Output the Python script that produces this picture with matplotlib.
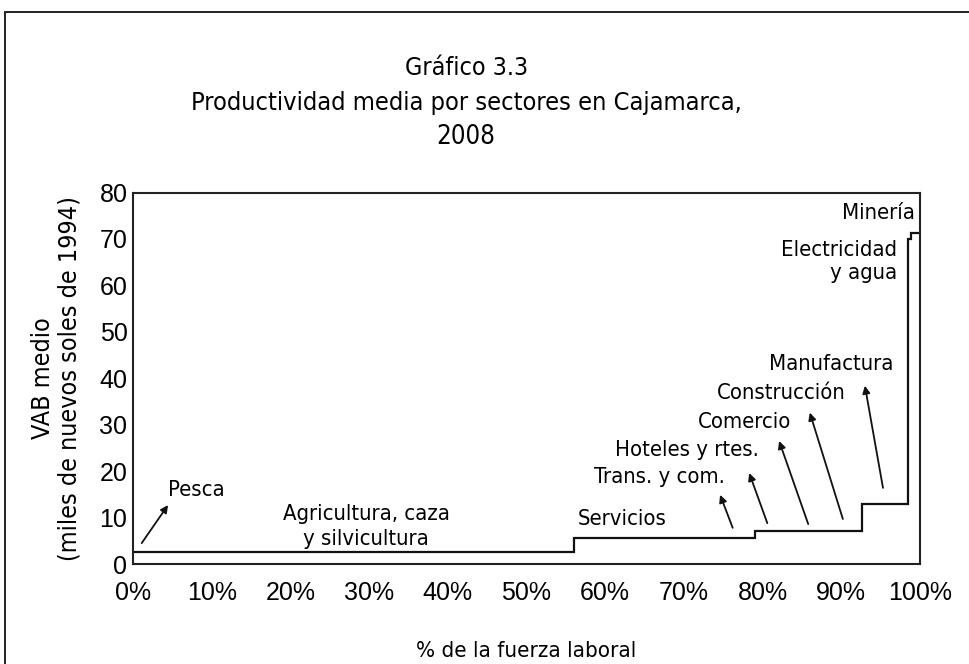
import numpy as np
import matplotlib
matplotlib.use('Agg')
import matplotlib.pyplot as plt
from matplotlib import font_manager
from matplotlib.patches import Rectangle

# Sectors ordered by average value added per worker (Cajamarca, 2008)
sectors = ['Pesca', 'Agricultura, caza y silvicultura', 'Servicios', 'Trans. y com.',
           'Hoteles y rtes.', 'Comercio', 'Construcción', 'Manufactura',
           'Electricidad y agua', 'Minería']
labor_share = [0.4, 55.6, 18.0, 5.0, 3.5, 5.5, 4.6, 5.9, 0.3, 1.2]   # % of labour force
vab_medio = [2.6, 2.6, 5.6, 5.6, 7.2, 7.2, 7.2, 12.9, 70.0, 71.3]     # thousand 1994 soles

x_ticks = [0, 10, 20, 30, 40, 50, 60, 70, 80, 90, 100]
y_ticks = [0, 10, 20, 30, 40, 50, 60, 70, 80]


def find_narrow_font():
    # prefer a narrow sans face, regular weight, upright
    hits = []
    for f in font_manager.fontManager.ttflist:
        tag = (f.name + ' ' + f.fname).lower()
        if ('narrow' in tag or 'condensed' in tag or 'condensed' in str(f.stretch)) \
                and f.style == 'normal' and f.weight in (400, 'normal', 'regular') \
                and 'mono' not in tag and 'serif' not in f.name.lower():
            hits.append(f)
    hits.sort(key=lambda f: (0 if 'liberation' in f.name.lower() else 1, f.fname))
    return hits[0].fname if hits else None


regular = 'Liberation Sans'
plt.rcParams['font.family'] = [regular, 'DejaVu Sans']
narrow_file = find_narrow_font()
if narrow_file:
    def tfont(size):
        return font_manager.FontProperties(fname=narrow_file, size=size)
else:
    def tfont(size):
        return font_manager.FontProperties(family=regular, size=size * 0.84)

fig = plt.figure(figsize=(9.69, 6.64), dpi=100)
ax = fig.add_axes([0.1373, 0.1506, 0.8121, 0.5594])

# outer frame of the figure
fig.patches.append(Rectangle((5 / 969, -0.05), 1.1, 1 - 12 / 664 + 0.05,
                             transform=fig.transFigure, fill=False,
                             edgecolor='#222222', linewidth=1.4))

edges = np.concatenate([[0], np.cumsum(labor_share)])
ax.stairs(vab_medio, edges, baseline=None, color='#111111', linewidth=1.6)

ax.set_xlim(0, 100)
ax.set_ylim(0, 80)
ax.set_xticks(x_ticks)
ax.set_xticklabels([f'{t}%' for t in x_ticks])
ax.set_yticks(y_ticks)
ax.tick_params(length=0, labelsize=18, pad=4)
ax.tick_params(axis='x', pad=12)
for s in ax.spines.values():
    s.set_linewidth(1.5)
    s.set_color('#222222')

ax.set_ylabel('VAB medio\n(miles de nuevos soles de 1994)', fontproperties=tfont(18),
              labelpad=13, linespacing=1.15)
ax.set_xlabel('% de la fuerza laboral', fontproperties=tfont(16), labelpad=26)

fig.text(0.481, 1 - 68 / 664, 'Gráfico 3.3', ha='center', va='center',
         fontproperties=tfont(18))
fig.text(0.481, 1 - 103 / 664, 'Productividad media por sectores en Cajamarca,',
         ha='center', va='center', fontproperties=tfont(18.2))
fig.text(0.481, 1 - 137 / 664, '2008', ha='center', va='center',
         fontproperties=tfont(18.5))

lab = dict(fontproperties=tfont(15.8), va='center')
arrow = dict(arrowstyle='-|>', color='#111111', lw=1.3, mutation_scale=11,
             shrinkA=0, shrinkB=0)

# Pesca
ax.text(8.1, 16.0, 'Pesca', ha='center', **lab)
ax.annotate('', xy=(4.45, 12.7), xytext=(1.1, 4.5), arrowprops=arrow)

ax.text(29.6, 8.0, 'Agricultura, caza\ny silvicultura', ha='center',
        linespacing=1.3, **lab)
ax.text(62.2, 9.7, 'Servicios', ha='center', **lab)

labels_right = [
    ('Trans. y com.', 75.2, 18.8, (76.2, 7.8), (74.6, 14.9)),
    ('Hoteles y rtes.', 79.5, 24.6, (80.6, 8.8), (78.3, 19.6)),
    ('Comercio', 83.6, 30.6, (85.8, 8.6), (82.1, 26.5)),
    ('Construcción', 90.5, 36.9, (90.2, 9.7), (86.0, 32.6)),
    ('Manufactura', 96.6, 43.1, (95.3, 16.4), (93.0, 38.4)),
]
for name, tx, ty, tail, head in labels_right:
    ax.text(tx, ty, name, ha='right', **lab)
    ax.annotate('', xy=head, xytext=tail, arrowprops=arrow)

ax.text(97.1, 65.1, 'Electricidad\ny agua', ha='right', multialignment='right',
        linespacing=1.2, **lab)
ax.text(99.4, 75.7, 'Minería', ha='right', **lab)

fig.savefig('out.png', dpi=100)
